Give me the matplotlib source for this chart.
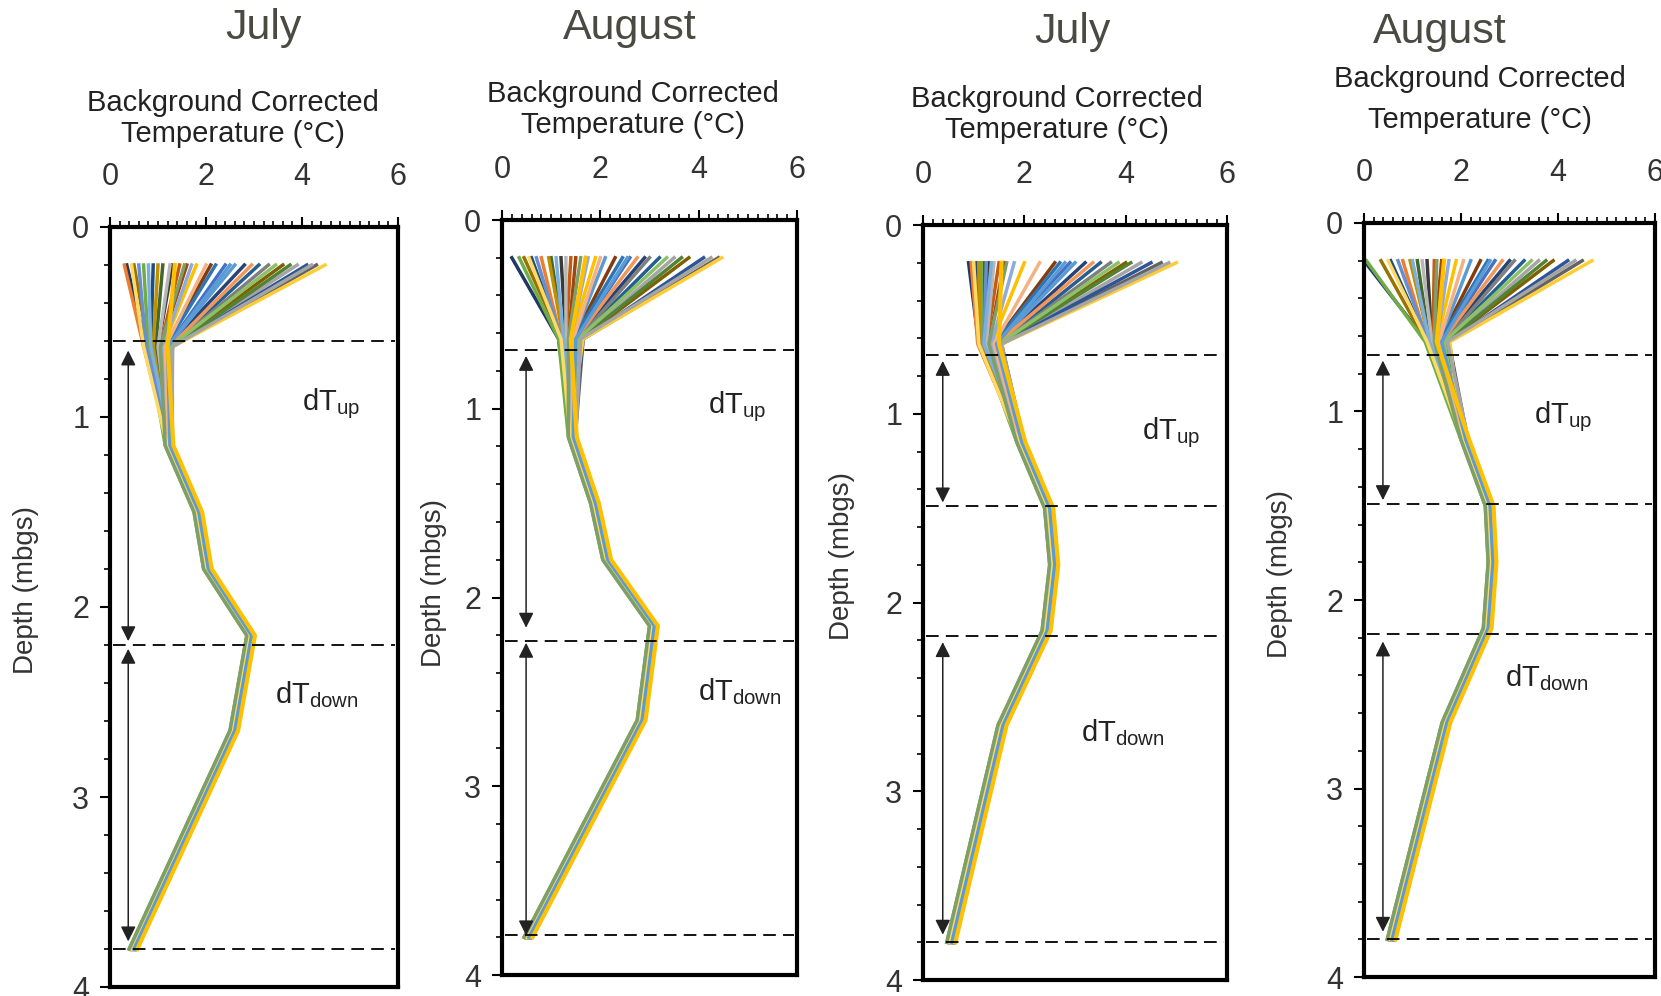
import matplotlib
matplotlib.use("Agg")
import matplotlib.pyplot as plt
from matplotlib.ticker import MultipleLocator

plt.rcParams["font.family"] = ["Liberation Sans", "DejaVu Sans"]
plt.rcParams["mathtext.fontset"] = "custom"
plt.rcParams["mathtext.rm"] = "Liberation Sans"
plt.rcParams["mathtext.it"] = "Liberation Sans:italic"

W, H = 1661, 996

# ─── Data ────────────────────────────────────────────────────────────────────
# thermistor depths, m below ground surface
DEPTHS = [0.2, 0.63, 1.15, 1.5, 1.8, 2.15, 2.65, 3.8]

# temperature at 0.2 m (the fan) and at the knee (~0.63 m), one value per profile
SURF_JUL_A = [0.35, 2.1, 1.3, 3.6, 0.9, 2.8, 1.6, 4.3, 0.5, 3.1, 1.1, 2.4, 0.3, 3.9, 1.8, 2.6, 0.7, 4.1,
              1.45, 3.3, 1.0, 2.2, 3.75, 0.6, 2.95, 1.25, 4.48, 0.8, 3.45, 1.7, 2.0, 4.2, 0.45, 2.5, 1.55, 1.35]
KNEE_JUL_A = [0.75, 1.15, 1.0, 1.25, 0.85, 1.2, 1.05, 1.3, 0.8, 1.25, 0.95, 1.2, 0.7, 1.3, 1.1, 1.2, 0.8, 1.3,
              1.05, 1.25, 0.9, 1.15, 1.3, 0.75, 1.25, 1.0, 1.3, 0.85, 1.25, 1.1, 1.15, 1.3, 0.7, 1.2, 1.05, 1.2]
DEEP_JUL_A = [1.25, 1.85, 2.05, 2.95, 2.6, 0.5]   # mean profile 1.15 .. 3.8 m

SURF_AUG_A = [0.2, 2.3, 1.2, 3.8, 0.6, 2.9, 1.5, 4.4, 0.45, 3.2, 1.0, 2.6, 0.8, 3.5, 1.9, 2.1, 0.35, 4.1,
              1.4, 3.0, 0.95, 2.45, 3.65, 0.7, 2.75, 1.3, 4.47, 1.1, 3.35, 1.75, 2.0, 4.25, 0.55, 2.55, 1.6, 1.7]
KNEE_AUG_A = [1.15, 1.45, 1.3, 1.6, 1.2, 1.5, 1.35, 1.65, 1.2, 1.55, 1.25, 1.5, 1.2, 1.6, 1.4, 1.45, 1.15, 1.65,
              1.3, 1.55, 1.25, 1.45, 1.6, 1.2, 1.5, 1.3, 1.65, 1.25, 1.55, 1.4, 1.45, 1.6, 1.2, 1.5, 1.35, 1.4]
DEEP_AUG_A = [1.45, 1.9, 2.15, 3.1, 2.85, 0.55]

SURF_JUL_B = [0.9, 2.6, 1.3, 4.0, 1.05, 3.2, 1.6, 4.7, 1.0, 3.5, 1.2, 2.9, 0.95, 4.3, 2.0, 3.0, 1.15, 4.5,
              1.5, 3.7, 1.1, 2.7, 4.1, 1.25, 3.35, 1.4, 5.0, 1.35, 3.85, 1.8, 2.3, 4.85, 1.0, 2.8, 1.65, 1.55]
KNEE_JUL_B = [1.1, 1.4, 1.2, 1.5, 1.15, 1.45, 1.3, 1.55, 1.1, 1.5, 1.2, 1.4, 1.08, 1.55, 1.35, 1.45, 1.15, 1.55,
              1.25, 1.5, 1.12, 1.4, 1.5, 1.2, 1.45, 1.25, 1.56, 1.2, 1.5, 1.35, 1.4, 1.55, 1.1, 1.45, 1.3, 1.5]
DEEP_JUL_B = [1.95, 2.5, 2.6, 2.45, 1.58, 0.57]

SURF_AUG_B = [0.0, 2.4, 1.3, 3.9, 0.55, 3.0, 1.6, 4.5, 0.35, 3.3, 1.1, 2.7, 0.8, 3.6, 1.9, 2.2, 0.05, 4.2,
              1.45, 3.1, 0.95, 2.55, 3.75, 0.7, 2.85, 1.2, 4.7, 1.0, 3.45, 1.75, 2.05, 4.35, 0.5, 2.6, 1.5, 1.65]
KNEE_AUG_B = [1.3, 1.55, 1.4, 1.7, 1.3, 1.6, 1.45, 1.75, 1.28, 1.65, 1.35, 1.6, 1.3, 1.7, 1.5, 1.55, 1.26, 1.75,
              1.42, 1.65, 1.35, 1.55, 1.7, 1.32, 1.6, 1.4, 1.77, 1.35, 1.65, 1.5, 1.55, 1.72, 1.3, 1.6, 1.45, 1.5]
DEEP_AUG_B = [2.1, 2.6, 2.66, 2.56, 1.71, 0.58]

# small per-profile offset of the tight deep bundle
OFFSET = [-0.04, 0.01, -0.08, 0.03, -0.02, 0.0, -0.09, 0.04, -0.05, 0.02, -0.07, 0.01, -0.03, 0.04, -0.04, 0.02,
          -0.1, 0.0, -0.05, 0.03, -0.02, 0.02, -0.06, 0.04, -0.01, 0.01, -0.09, 0.03, -0.07, 0.02, -0.03, 0.05,
          -0.06, 0.0, -0.1, 0.07]

# dashed zone boundaries (m) and dT arrows (start, end) per panel
BOUNDS_JUL_A = [0.6, 2.2, 3.8]
BOUNDS_AUG_A = [0.69, 2.23, 3.79]
BOUNDS_JUL_B = [0.69, 1.49, 2.18, 3.8]
BOUNDS_AUG_B = [0.7, 1.49, 2.18, 3.8]
ARROWS_JUL_A = [(0.65, 2.18), (2.22, 3.76)]
ARROWS_AUG_A = [(0.72, 2.16), (2.24, 3.79)]
ARROWS_JUL_B = [(0.72, 1.47), (2.21, 3.76)]
ARROWS_AUG_B = [(0.73, 1.47), (2.22, 3.76)]

# Excel-like series colours, darkest first so the bundle reads mid-tone, gold on top
COLORS = ["#1F3864", "#843C0C", "#3A3A3A", "#7F6000", "#1F4E79",
          "#264478", "#9E480E", "#636363", "#997300", "#255E91", "#43682B",
          "#4472C4", "#ED7D31", "#A5A5A5", "#FFC000", "#5B9BD5", "#70AD47",
          "#2F5597", "#C55A11", "#7F7F7F", "#BF9000", "#2E75B6", "#548235",
          "#698ED0", "#F1975A", "#B7B7B7", "#FFCD33", "#7CAFDD", "#8CC168",
          "#8FAADC", "#F4B183", "#A5A5A5", "#FFD966", "#5B9BD5", "#7F9F6A", "#FFC000"]

XLABEL = "Background Corrected\nTemperature (°C)"
YLABEL = "Depth (mbgs)"


def px_rect(x0, y0, x1, y1):
    return [x0 / W, 1 - y1 / H, (x1 - x0) / W, (y1 - y0) / H]


panels = [
    dict(box=(110, 227, 398, 987), title="July", tpos=(263, 28),
         surf=SURF_JUL_A, knee=KNEE_JUL_A, deep=DEEP_JUL_A, bounds=BOUNDS_JUL_A, arrows=ARROWS_JUL_A,
         arrow_x=0.38, xlab=(0.427, 1.143), ls=1.15, ylab=(26, 590),
         up=(4.6, 0.93), down=(4.3, 2.46)),
    dict(box=(502, 220, 797, 975), title="August", tpos=(630, 28),
         surf=SURF_AUG_A, knee=KNEE_AUG_A, deep=DEEP_AUG_A, bounds=BOUNDS_AUG_A, arrows=ARROWS_AUG_A,
         arrow_x=0.49, xlab=(0.444, 1.146), ls=1.15, ylab=(434, 583),
         up=(4.78, 0.99), down=(4.84, 2.5)),
    dict(box=(923, 225, 1227, 980), title="July", tpos=(1072, 32),
         surf=SURF_JUL_B, knee=KNEE_JUL_B, deep=DEEP_JUL_B, bounds=BOUNDS_JUL_B, arrows=ARROWS_JUL_B,
         arrow_x=0.39, xlab=(0.441, 1.146), ls=1.15, ylab=(842, 556),
         up=(4.9, 1.1), down=(3.95, 2.69)),
    dict(box=(1364, 223, 1655, 977), title="August", tpos=(1440, 32),
         surf=SURF_AUG_B, knee=KNEE_AUG_B, deep=DEEP_AUG_B, bounds=BOUNDS_AUG_B, arrows=ARROWS_AUG_B,
         arrow_x=0.39, xlab=(0.399, 1.164), ls=1.6, ylab=(1280, 574),
         up=(4.1, 1.03), down=(3.78, 2.41)),
]

fig = plt.figure(figsize=(W / 100, H / 100), dpi=100)
fig.patch.set_facecolor("white")

for p in panels:
    ax = fig.add_axes(px_rect(*p["box"]))
    n = len(p["surf"])

    # ── temperature profiles ──
    for i in range(n):
        temps = [p["surf"][i], p["knee"][i]] + [d + OFFSET[i] for d in p["deep"]]
        ax.plot(temps, DEPTHS, color=COLORS[i % len(COLORS)],
                lw=3.0 if i == n - 1 else 2.5, zorder=2)

    # ── zone boundaries + arrows ──
    for b in p["bounds"]:
        ax.axhline(b, xmin=0.01, xmax=0.99, color="black", lw=1.3, dashes=(7, 4), zorder=3)
    for a, b in p["arrows"]:
        ax.annotate("", xy=(p["arrow_x"], b), xytext=(p["arrow_x"], a),
                    arrowprops=dict(arrowstyle="<|-|>,head_length=0.6,head_width=0.3",
                                    color="#222222", lw=1.1, shrinkA=0, shrinkB=0,
                                    mutation_scale=15), zorder=4)
    ax.text(*p["up"], "dT$_{\\mathrm{up}}$", ha="center", va="center", fontsize=21, color="#222222")
    ax.text(*p["down"], "dT$_{\\mathrm{down}}$", ha="center", va="center", fontsize=21, color="#222222")

    # ── axes ──
    ax.set_xlim(0, 6)
    ax.set_ylim(4, 0)
    ax.xaxis.tick_top()
    ax.xaxis.set_major_locator(MultipleLocator(2))
    ax.xaxis.set_minor_locator(MultipleLocator(0.2))
    ax.yaxis.set_major_locator(MultipleLocator(1))
    ax.yaxis.set_minor_locator(MultipleLocator(0.2))
    ax.tick_params(axis="x", which="both", top=True, bottom=False, direction="out")
    ax.tick_params(axis="y", which="both", left=True, right=False, direction="out")
    ax.tick_params(which="major", length=7, width=1.5, labelsize=22, labelcolor="#333333")
    ax.tick_params(which="minor", length=4, width=1.2)
    ax.tick_params(axis="x", pad=18)
    ax.tick_params(axis="y", pad=8)
    for s in ax.spines.values():
        s.set_linewidth(3)

    ax.text(*p["xlab"], XLABEL, transform=ax.transAxes, ha="center", va="center",
            fontsize=21, color="#222222", linespacing=p["ls"])
    fig.text(p["ylab"][0] / W, 1 - p["ylab"][1] / H, YLABEL, rotation=90,
             ha="center", va="center", fontsize=20, color="#333333")
    fig.text(p["tpos"][0] / W, 1 - p["tpos"][1] / H, p["title"],
             ha="center", va="center", fontsize=31, color="#4a4a42")

plt.savefig("out.png", dpi=100)
plt.close()
